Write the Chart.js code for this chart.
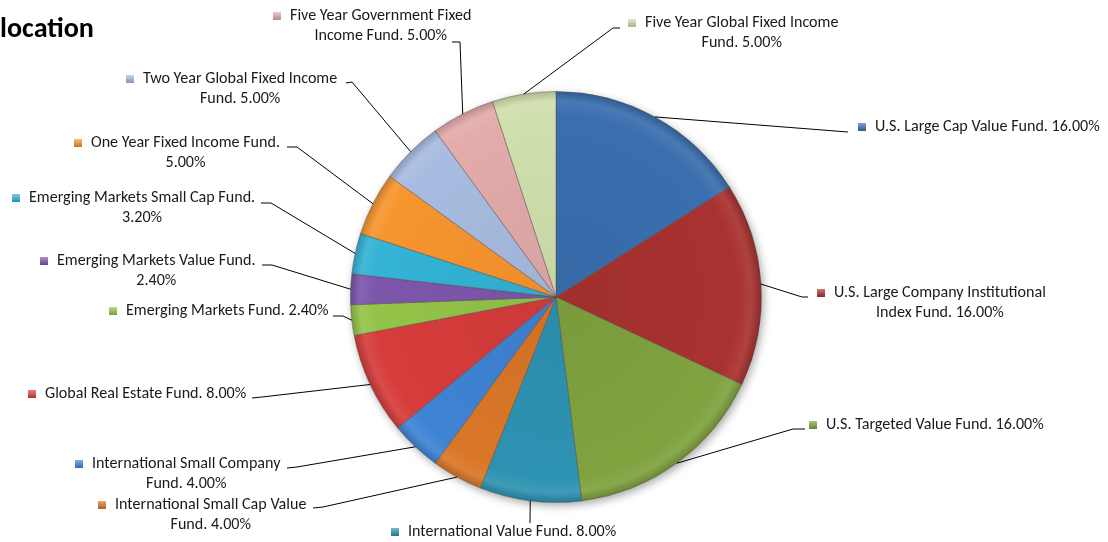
<!DOCTYPE html>
<html><head><meta charset="utf-8">
<script src="https://cdn.jsdelivr.net/npm/chart.js@4.4.0/dist/chart.umd.min.js"></script>
<style>html,body{margin:0;padding:0;background:#fff;overflow:hidden}canvas{display:block}</style>
</head><body>
<canvas id="c" width="1108" height="542"></canvas>
<script>
// ---- data ----
const categories = [
  'U.S. Large Cap Value Fund',
  'U.S. Large Company Institutional Index Fund',
  'U.S. Targeted Value Fund',
  'International Value Fund',
  'International Small Cap Value Fund',
  'International Small Company Fund',
  'Global Real Estate Fund',
  'Emerging Markets Fund',
  'Emerging Markets Value Fund',
  'Emerging Markets Small Cap Fund',
  'One Year Fixed Income Fund',
  'Two Year Global Fixed Income Fund',
  'Five Year Government Fixed Income Fund',
  'Five Year Global Fixed Income Fund'
];
const allocations = [16, 16, 16, 8, 4, 4, 8, 2.4, 2.4, 3.2, 5, 5, 5, 5];
const titleText = 'location';

// ---- styles / layout ----
const sliceColors = ['#3A6EAF','#A8322F','#80A23F','#2E92B2','#DA7628','#3F83D4','#D63C3B',
  '#93C449','#7D56AC','#33B3D6','#F7952E','#A7BCE0','#E3ABAA','#D0E0AC'];
const firstLineWords = [0, 4, 0, 0, 4, 3, 0, 0, 4, 5, 5, 5, 4, 5];
const labelLayout = [
  {x: 875, y: 127, leader: [[848,132]]},
  {x: 834, y: 293, leader: [[802,297],[808,297]]},
  {x: 826, y: 425, leader: [[793,429],[805,429]]},
  {x: 408, y: 532, leader: [[530,523]]},
  {x: 115, y: 505, leader: [[323,507],[313,508]]},
  {x: 92,  y: 464, leader: [[297,467],[287,468]]},
  {x: 45,  y: 394, leader: [[262,397],[252,398]]},
  {x: 126, y: 311, leader: [[343,316],[333,316]]},
  {x: 57,  y: 261, leader: [[272,265],[262,265]]},
  {x: 29,  y: 198, leader: [[271,203],[261,203]]},
  {x: 91,  y: 143, leader: [[297,147],[287,147]]},
  {x: 143, y: 79,  leader: [[352,82],[346,83]]},
  {x: 290, y: 16,  leader: [[460,42],[452,42]]},
  {x: 645, y: 23,  leader: [[613,28],[620,28]]}
];
const FONT_FAMILY = "Carlito, Calibri, Lato, 'Open Sans', sans-serif";
const LINE_H = 20;

function shade(hex, f) {
  const n = parseInt(hex.slice(1), 16);
  let r = (n >> 16) & 255, g = (n >> 8) & 255, b = n & 255;
  if (f < 0) { r *= 1 + f; g *= 1 + f; b *= 1 + f; }
  else { r += (255 - r) * f; g += (255 - g) * f; b += (255 - b) * f; }
  return `rgb(${Math.round(r)},${Math.round(g)},${Math.round(b)})`;
}

function labelText(i) { return categories[i] + '. ' + allocations[i].toFixed(2) + '%'; }
function labelLines(i) {
  const words = labelText(i).split(' ');
  const k = firstLineWords[i];
  if (!k) return [words.join(' ')];
  return [words.slice(0, k).join(' '), words.slice(k).join(' ')];
}

const shadowPlugin = {
  id: 'pieShadow',
  beforeDatasetsDraw(chart) {
    const arc = chart.getDatasetMeta(0).data[0];
    if (!arc) return;
    const {x, y, outerRadius} = arc.getProps(['x','y','outerRadius'], true);
    const ctx = chart.ctx;
    ctx.save();
    ctx.shadowColor = 'rgba(0,0,0,0.35)';
    ctx.shadowBlur = 9;
    ctx.shadowOffsetX = 2;
    ctx.shadowOffsetY = 3;
    ctx.fillStyle = '#fff';
    ctx.beginPath();
    ctx.arc(x, y, outerRadius, 0, Math.PI * 2);
    ctx.fill();
    ctx.restore();
  }
};

const labelPlugin = {
  id: 'calloutLabels',
  afterDatasetsDraw(chart) {
    const ctx = chart.ctx;
    const meta = chart.getDatasetMeta(0);
    ctx.save();
    ctx.font = `100px ${FONT_FAMILY}`;
    const refW = ctx.measureText(labelText(0)).width;
    const fs = 100 * 225 / refW;
    ctx.font = `${fs}px ${FONT_FAMILY}`;
    ctx.textBaseline = 'middle';
    meta.data.forEach((arc, i) => {
      const p = arc.getProps(['x','y','startAngle','endAngle','outerRadius'], true);
      const mid = (p.startAngle + p.endAngle) / 2;
      const sx = p.x + Math.cos(mid) * p.outerRadius;
      const sy = p.y + Math.sin(mid) * p.outerRadius;
      const L = labelLayout[i];
      ctx.strokeStyle = '#000';
      ctx.lineWidth = 1;
      ctx.beginPath();
      ctx.moveTo(sx, sy);
      L.leader.forEach(pt => ctx.lineTo(pt[0], pt[1]));
      ctx.stroke();
      // marker
      const c = sliceColors[i];
      const g = ctx.createLinearGradient(0, L.y - 4, 0, L.y + 4);
      g.addColorStop(0, shade(c, 0.35));
      g.addColorStop(1, shade(c, -0.2));
      ctx.fillStyle = g;
      ctx.fillRect(L.x - 17, L.y - 4, 8, 8);
      // text
      ctx.fillStyle = '#1a1a1a';
      const lines = labelLines(i);
      ctx.textAlign = 'left';
      ctx.fillText(lines[0], L.x, L.y);
      if (lines[1]) {
        const w0 = ctx.measureText(lines[0]).width;
        ctx.textAlign = 'center';
        ctx.fillText(lines[1], L.x + w0 / 2, L.y + LINE_H);
      }
    });
    // title
    ctx.font = `bold 100px ${FONT_FAMILY}`;
    const tw = ctx.measureText(titleText).width;
    const tfs = 100 * 94 / tw;
    ctx.font = `bold ${tfs}px ${FONT_FAMILY}`;
    ctx.textAlign = 'left';
    ctx.textBaseline = 'middle';
    ctx.fillStyle = '#000';
    ctx.fillText(titleText, 0, 30);
    ctx.restore();
  }
};

new Chart(document.getElementById('c'), {
  type: 'pie',
  data: {
    labels: categories,
    datasets: [{
      data: allocations,
      backgroundColor: (context) => {
        const chart = context.chart;
        const area = chart.chartArea;
        const base = sliceColors[context.dataIndex];
        if (!area) return base;
        const cx = (area.left + area.right) / 2, cy = (area.top + area.bottom) / 2;
        const r = Math.min(area.right - area.left, area.bottom - area.top) / 2;
        const g = chart.ctx.createRadialGradient(cx, cy, 0, cx, cy, r);
        g.addColorStop(0, shade(base, -0.05));
        g.addColorStop(0.88, base);
        g.addColorStop(0.95, shade(base, 0.08));
        g.addColorStop(1, shade(base, -0.18));
        return g;
      },
      borderColor: 'rgba(70,70,70,0.45)',
      borderWidth: 1
    }]
  },
  options: {
    responsive: false,
    animation: false,
    layout: {padding: {left: 350, right: 346, top: 91, bottom: 39}},
    plugins: {legend: {display: false}, tooltip: {enabled: false}, title: {display: false}}
  },
  plugins: [shadowPlugin, labelPlugin]
});
</script>
</body></html>
